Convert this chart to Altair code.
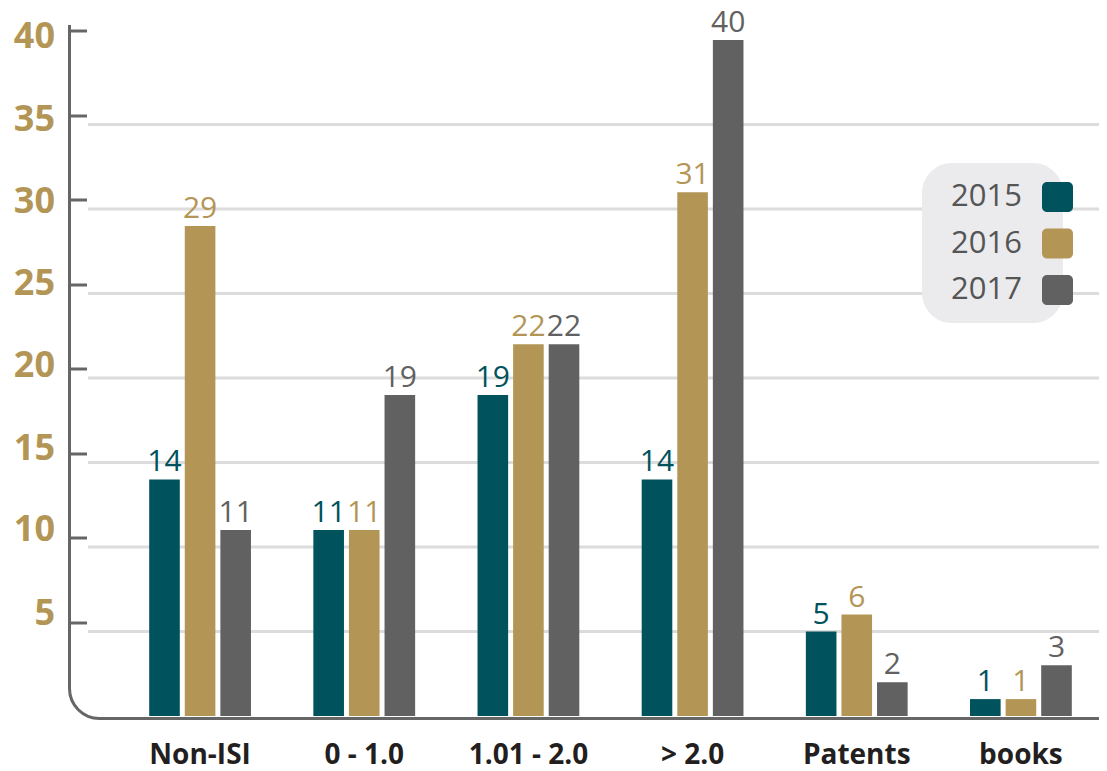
import altair as alt
import pandas as pd

categories = ["Non-ISI", "0 - 1.0", "1.01 - 2.0", "> 2.0", "Patents", "books"]
years = ["2015", "2016", "2017"]
values_2015 = [14, 11, 19, 14, 5, 1]
values_2016 = [29, 11, 22, 31, 6, 1]
values_2017 = [11, 19, 22, 40, 2, 3]
colors = ["#00525c", "#b39656", "#616161"]
y_ticks = [5, 10, 15, 20, 25, 30, 35, 40]
grid_values = [5, 10, 15, 20, 25, 30, 35]
# small vertical nudges of the tick labels relative to their ticks
label_nudges = {40: 6, 35: 4, 30: 2, 25: -1, 20: -3, 15: -5, 10: -8, 5: -9}

rows = []
for yr, vals in zip(years, [values_2015, values_2016, values_2017]):
    for c, v in zip(categories, vals):
        rows.append({"cat": c, "year": yr, "value": v})
df = pd.DataFrame(rows)
grid_df = pd.DataFrame({"value": grid_values})

W, H = 1031, 695
FONT = "Open Sans"

label_offset = {
    "condition": [{"test": f"datum.value == {k}", "value": v} for k, v in label_nudges.items()],
    "value": 0,
}

yscale = alt.Scale(domain=[-0.237, 40.89], nice=False, zero=False)
yaxis = alt.Axis(values=y_ticks, grid=False, domain=False, ticks=True, tickSize=16,
                 tickWidth=3, tickColor="#666666", labelFont=FONT, labelFontSize=36,
                 labelFontWeight="bold", labelColor="#b39656", labelPadding=16,
                 labelOffset=label_offset,
                 offset=-28, translate=-9, title=None, labelBaseline="middle")
Y = alt.Y("value:Q", scale=yscale, axis=yaxis)

xscale = alt.Scale(domain=categories, range=[50, 1035], paddingInner=0.38, paddingOuter=0.19)
xaxis = alt.Axis(domain=False, ticks=False, labelFont=FONT, labelFontSize=28,
                 labelFontWeight="bold", labelColor="#231f20", labelPadding=21,
                 title=None, labelAngle=0)
X = alt.X("cat:N", scale=xscale, axis=xaxis, sort=categories)
XO = alt.XOffset("year:N", scale=alt.Scale(domain=years, paddingInner=0.14, paddingOuter=0))
C = alt.Color("year:N", scale=alt.Scale(domain=years, range=colors), legend=None)

grid = alt.Chart(grid_df).mark_rule(color="#dcdcdc", strokeWidth=3).encode(
    y=Y, x=alt.value(20), x2=alt.value(W)
)

bars = alt.Chart(df).mark_bar().encode(x=X, xOffset=XO, y=Y, color=C)

labels = alt.Chart(df).mark_text(font=FONT, fontSize=30, baseline="alphabetic", dy=-8).encode(
    x=X, xOffset=XO, y=Y, text=alt.Text("value:Q"), color=C
)

legend_bg = alt.Chart(pd.DataFrame({"a": [0]})).mark_rect(
    color="#ebebed", cornerRadius=30
).encode(x=alt.value(854), x2=alt.value(995), y=alt.value(138), y2=alt.value(298))

legend_layers = []
for i, (yr, col) in enumerate(zip(years, colors)):
    cy = 172 + 46.5 * i
    d = pd.DataFrame({"year": [yr]})
    legend_layers.append(
        alt.Chart(d).mark_rect(color=col, cornerRadius=5).encode(
            x=alt.value(974), x2=alt.value(1005), y=alt.value(cy - 15), y2=alt.value(cy + 15)
        )
    )
    legend_layers.append(
        alt.Chart(d).mark_text(font=FONT, fontSize=31, color="#555555", align="right",
                               baseline="middle").encode(
            x=alt.value(954), y=alt.value(cy), text="year:N"
        )
    )

frame = alt.Chart(pd.DataFrame({"a": [0]})).mark_rect(
    clip=True, fillOpacity=0, stroke="#666666", strokeWidth=3, cornerRadiusBottomLeft=30
).encode(x=alt.value(1.5), x2=alt.value(1300), y=alt.value(-100), y2=alt.value(H - 1.5))

chart = alt.layer(grid, bars, labels, legend_bg, *legend_layers, frame).properties(
    width=W, height=H,
    autosize=alt.AutoSizeParams(type="none"),
    padding={"left": 60, "top": 17, "right": 0, "bottom": 50},
    background="white",
).configure_view(stroke=None)

chart.save("out.html", embed_options={"renderer": "svg", "actions": False})
